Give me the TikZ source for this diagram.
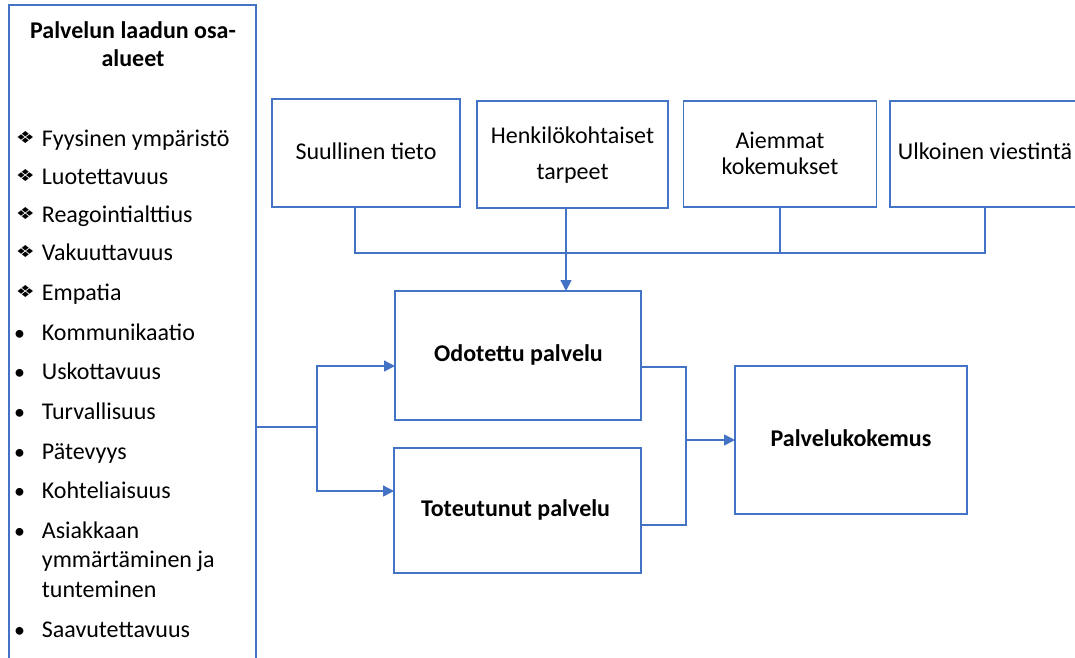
\documentclass[tikz,border=0pt]{standalone}
\usepackage{fontspec}
\usepackage{graphicx}
\setmainfont{Carlito}
\newfontfamily\symfont{DejaVu Sans}
\usetikzlibrary{arrows.meta,calc}
\definecolor{edge}{HTML}{4472C4}
\begin{document}
\begin{tikzpicture}[x=1pt,y=-1pt,
  frame/.style={draw=edge, line width=1.5pt, inner sep=0pt, outer sep=0pt},
  txt/.style={anchor=base, inner sep=0pt, font=\fontsize{24}{29}\selectfont},
  boldtxt/.style={anchor=base, inner sep=0pt, font=\fontsize{24}{29}\selectfont\bfseries},
  item/.style={anchor=base west, inner sep=0pt, font=\fontsize{24}{29}\selectfont},
  dia/.style={anchor=base, inner sep=0pt},
  dot/.style={anchor=base, inner sep=0pt, font=\fontsize{22}{29}\selectfont},
  wire/.style={draw=edge, line width=1.5pt},
  feed/.style={wire, -{Triangle[length=11pt,width=11pt]}}]

\useasboundingbox (0,0) rectangle (1075,657);

% left panel: quality dimensions (open at the bottom edge)
\node[frame, minimum width=247pt, minimum height=700pt] (areas) at (132.5,355) {};
\node[boldtxt] (title1) at (133,38.3) {Palvelun laadun osa-};
\node[boldtxt] (title2) at (133,66.7) {alueet};

\foreach \y/\t [count=\i] in {146.5/Fyysinen ympäristö, 184/Luotettavuus,
    222/Reagointialttius, 260.5/Vakuuttavuus, 300/Empatia} {
  \node[item] (q\i) at (41.7,\y) {\t};
  \node[dia] (dq\i) at (25.5,\y) {\raisebox{3pt}{\resizebox{19pt}{12pt}{\symfont ❖}}};
}

\foreach \y/\t [count=\i] in {340/Kommunikaatio, 379.5/Uskottavuus, 419/Turvallisuus,
    459/Pätevyys, 498.5/Kohteliaisuus, 538.5/Asiakkaan, 637/Saavutettavuus} {
  \node[item] (b\i) at (41.7,\y) {\t};
  \node[dot] (db\i) at (19.5,\y) {•};
}
\node[item] (b6a) at (41.7,567.5) {ymmärtäminen ja};
\node[item] (b6b) at (41.7,597) {tunteminen};

% top row: sources of expectations
\node[frame, minimum width=188pt, minimum height=108pt] (suul) at (366,153) {};
\node[frame, minimum width=191pt, minimum height=107pt] (henk) at (572.5,154.5) {};
\node[frame, minimum width=193pt, minimum height=106pt] (aiem) at (780,154) {};
\node[frame, minimum width=190pt, minimum height=106pt] (ulk) at (985,154) {};

\node[txt] (suul-t) at (366,159) {Suullinen tieto};
\node[txt] (henk-t1) at (572.5,143) {Henkilökohtaiset};
\node[txt] (henk-t2) at (572.5,179) {tarpeet};
\node[txt] (aiem-t1) at (780,148) {Aiemmat};
\node[txt] (aiem-t2) at (780,174) {kokemukset};
\node[txt] (ulk-t) at (985,159) {Ulkoinen viestintä};

% middle: expected and perceived service
\node[frame, minimum width=246pt, minimum height=129pt] (odot) at (518,355.5) {};
\node[frame, minimum width=247pt, minimum height=125pt] (tot) at (517.5,510.5) {};
\node[boldtxt] (odot-t) at (518.5,361.7) {Odotettu palvelu};
\node[boldtxt] (tot-t) at (515.5,516.7) {Toteutunut palvelu};

% right: service experience
\node[frame, minimum width=232pt, minimum height=148pt] (palv) at (851,440) {};
\node[boldtxt] (palv-t) at (851,446.7) {Palvelukokemus};

% connectors from the top row
\coordinate (busL) at (355,253);
\coordinate (busR) at (985,253);
\coordinate (drop) at (566,253);
\draw[wire] (suul.south -| busL) -- (busL) -- (busR) -- (ulk.south -| busR);
\draw[wire] (aiem.south) -- (aiem.south |- busL);
\draw[feed] (henk.south -| drop) -- (odot.north -| drop);

% connectors from the left panel
\coordinate (split) at (317,427);
\draw[wire] (areas.east |- split) -- (split);
\draw[feed] (split) |- ($(odot.west)+(0,10.5)$);
\draw[feed] (split) |- ($(tot.west)+(0,-19.5)$);

% merge into the service experience
\coordinate (merge) at (686,440);
\draw[wire] ($(odot.east)+(0,11.5)$) -| (merge);
\draw[wire] ($(tot.east)+(0,14.5)$) -| (merge);
\draw[feed] (merge) -- (palv.west);
\end{tikzpicture}
\end{document}
